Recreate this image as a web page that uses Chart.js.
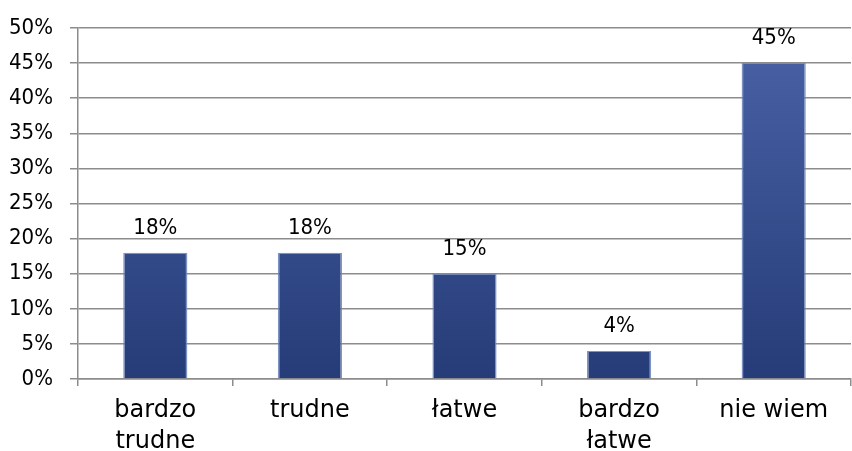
<!DOCTYPE html>
<html>
<head>
<meta charset="utf-8">
<script src="https://cdn.jsdelivr.net/npm/chart.js@4"></script>
<style>
  html, body { margin: 0; padding: 0; background: #fff; }
  #wrap { width: 852px; height: 451px; position: relative; }
</style>
</head>
<body>
<div id="wrap"><canvas id="chart"></canvas></div>
<script>
// Data
const categories = [['bardzo', 'trudne'], 'trudne', 'łatwe', ['bardzo', 'łatwe'], 'nie wiem'];
const values = [18, 18, 15, 4, 45];
const yTicks = [0, 5, 10, 15, 20, 25, 30, 35, 40, 45, 50];

const TEXT_FONT = '"DejaVu Sans"';
const NUM_FONT = '"Liberation Sans Narrow", "DejaVu Sans Condensed", sans-serif';

// Value labels above each bar
const barLabels = {
  id: 'barLabels',
  afterDatasetsDraw(chart) {
    const ctx = chart.ctx;
    const meta = chart.getDatasetMeta(0);
    ctx.save();
    ctx.font = '22px ' + NUM_FONT;
    ctx.fillStyle = '#000';
    ctx.textAlign = 'center';
    ctx.textBaseline = 'alphabetic';
    meta.data.forEach((bar, i) => {
      ctx.fillText(values[i] + '%', bar.x, bar.y - 19);
    });
    ctx.restore();
  }
};

const el = document.getElementById('chart');
const ctx = el.getContext('2d');

new Chart(ctx, {
  type: 'bar',
  data: {
    labels: categories,
    datasets: [{
      data: values,
      backgroundColor: (c) => {
        const area = c.chart.chartArea;
        if (!area) return '#34498c';
        const g = c.chart.ctx.createLinearGradient(0, area.top, 0, area.bottom);
        g.addColorStop(0, '#4a63a6');
        g.addColorStop(1, '#263c78');
        return g;
      },
      borderColor: 'rgba(110,135,190,0.9)',
      borderWidth: { left: 1.5, right: 1.5, top: 1, bottom: 0 },
      categoryPercentage: 1,
      barPercentage: 0.415
    }]
  },
  options: {
    responsive: true,
    maintainAspectRatio: false,
    animation: false,
    layout: { padding: { top: 28, right: 1, left: 0, bottom: 0 } },
    plugins: {
      legend: { display: false },
      tooltip: { enabled: false }
    },
    scales: {
      x: {
        offset: true,
        grid: {
          offset: true,
          drawOnChartArea: false,
          color: '#8c8c8c',
          tickLength: 7,
          lineWidth: 1.5
        },
        border: { color: '#8c8c8c', width: 1.5 },
        ticks: {
          color: '#000',
          font: { family: TEXT_FONT, size: 24, lineHeight: 1.3 },
          padding: 9,
          maxRotation: 0,
          autoSkip: false
        },
        afterFit: (axis) => {
          axis.height = 72;
          axis.paddingLeft = 0;
          axis.paddingRight = 0;
        }
      },
      y: {
        min: 0,
        max: 50,
        afterBuildTicks: (axis) => { axis.ticks = yTicks.map(v => ({ value: v })); },
        grid: {
          color: '#8c8c8c',
          lineWidth: 1.5,
          tickLength: 8
        },
        border: { color: '#8c8c8c', width: 1.5 },
        ticks: {
          color: '#000',
          font: { family: NUM_FONT, size: 22 },
          padding: 17,
          callback: (v) => v + '%'
        },
        afterFit: (axis) => {
          axis.width = 78;
          axis.paddingTop = 0;
          axis.paddingBottom = 0;
        }
      }
    }
  },
  plugins: [barLabels]
});
</script>
</body>
</html>
